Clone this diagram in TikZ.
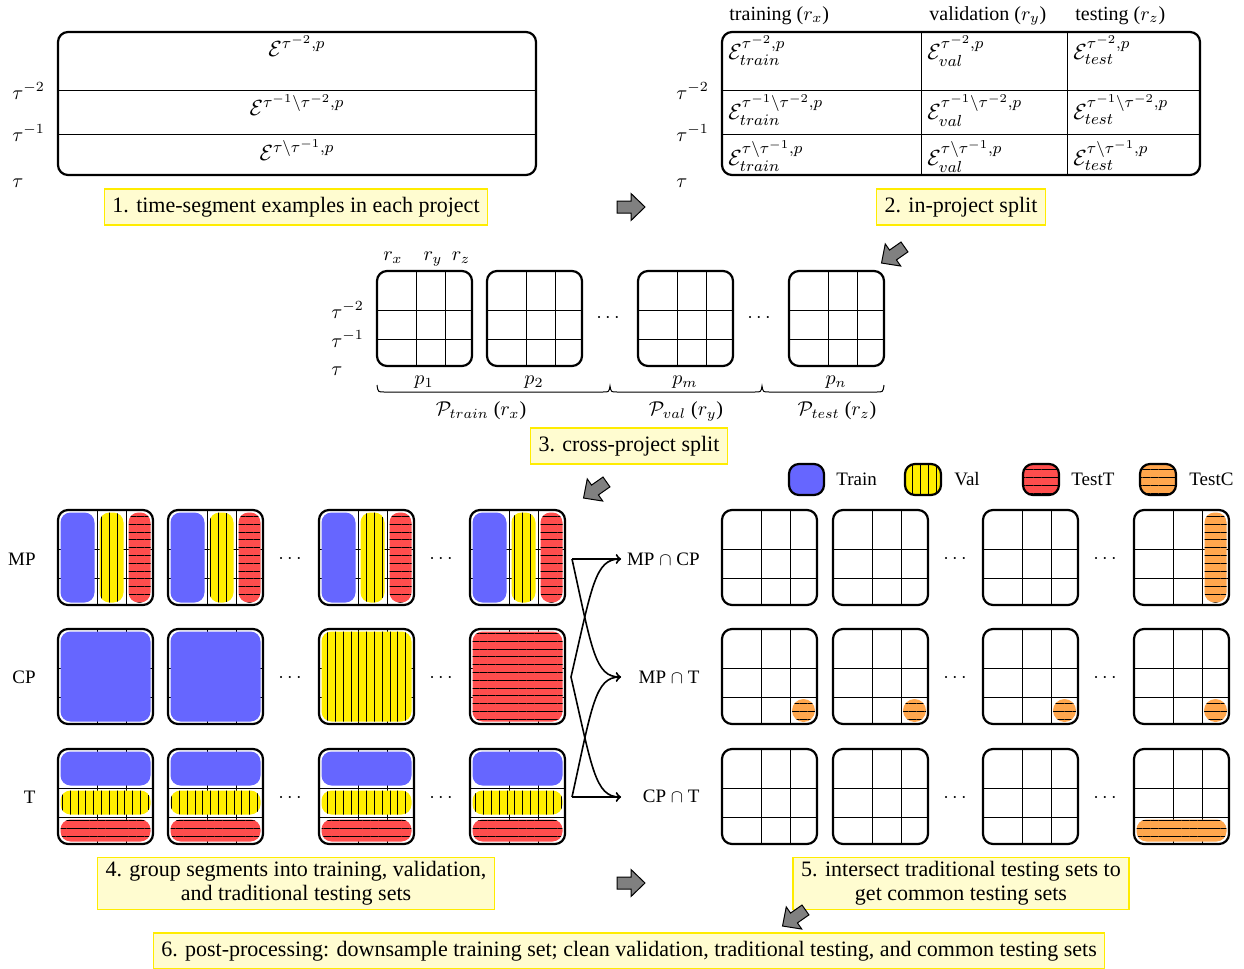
\documentclass[tikz,border=0pt]{standalone}
\usepackage[no-math]{fontspec}
\setmainfont{Liberation Serif}
\usetikzlibrary{patterns.meta}
\definecolor{trainc}{RGB}{102,102,255}
\definecolor{valc}{RGB}{255,238,0}
\definecolor{testtc}{RGB}{255,77,77}
\definecolor{testcc}{RGB}{255,166,77}
\definecolor{capfill}{RGB}{255,252,208}
\definecolor{capline}{RGB}{255,236,0}
\definecolor{arrgray}{RGB}{128,128,128}
\tikzset{
  bx/.style={line width=1.1pt, rounded corners=5pt},
  gl/.style={line width=0.5pt, black},
  trf/.style={fill=trainc, rounded corners=5pt},
  vaf/.style={fill=valc, rounded corners=5pt, postaction={pattern={Lines[angle=90,distance=3.9pt,line width=0.5pt]}, pattern color=black}},
  ttf/.style={fill=testtc, rounded corners=5pt, postaction={pattern={Lines[angle=0,distance=3.9pt,line width=0.5pt]}, pattern color=black}},
  tcf/.style={fill=testcc, rounded corners=5pt, postaction={pattern={Lines[angle=0,distance=3.9pt,line width=0.5pt]}, pattern color=black}},
  capbox/.style={draw=capline, fill=capfill, line width=0.6pt, inner xsep=4pt, inner ysep=4pt, font=\fontsize{11}{13.2}\selectfont, text height=7.5pt, text depth=2.5pt},
  captwo/.style={draw=capline, fill=capfill, line width=0.6pt, inner xsep=4pt, inner ysep=2pt, font=\fontsize{11}{12}\selectfont, align=center},
  garr/.style={draw=black, fill=arrgray, line width=0.5pt},
  lbl/.style={inner sep=0pt},
  eq/.style={inner sep=0pt, font=\fontsize{10.95}{13.6}\selectfont},
  sml/.style={inner sep=0pt, font=\fontsize{9.5}{11}\selectfont},
  conn/.style={line width=0.8pt, ->},
}
\newcommand\GL[2]{\draw[gl] ({#1+39},#2) -- ({#1+39},{#2+95}) ({#1+68},#2) -- ({#1+68},{#2+95}) (#1,{#2+39}) -- ({#1+95},{#2+39}) (#1,{#2+68}) -- ({#1+95},{#2+68});}
\newcommand\FR[2]{\draw[bx] (#1,#2) rectangle ({#1+95},{#2+95});}
\newcommand\EBOX[2]{\GL{#1}{#2}\FR{#1}{#2}}
\newcommand\MPF[2]{\GL{#1}{#2}%
  \path[trf] ({#1+2.5},{#2+2.5}) rectangle ({#1+36.5},{#2+92.5});%
  \path[vaf] ({#1+41.5},{#2+2.5}) rectangle ({#1+65.5},{#2+92.5});%
  \path[ttf] ({#1+70.5},{#2+2.5}) rectangle ({#1+92.5},{#2+92.5});%
  \FR{#1}{#2}}
\newcommand\TRF[2]{\GL{#1}{#2}%
  \path[trf] ({#1+2.5},{#2+2.5}) rectangle ({#1+92.5},{#2+36.5});%
  \path[vaf] ({#1+2.5},{#2+41.5}) rectangle ({#1+92.5},{#2+65.5});%
  \path[ttf] ({#1+2.5},{#2+70.5}) rectangle ({#1+92.5},{#2+92.5});%
  \FR{#1}{#2}}
\newcommand\CPF[3]{\GL{#1}{#2}\path[#3] ({#1+2.5},{#2+2.5}) rectangle ({#1+92.5},{#2+92.5});\FR{#1}{#2}}
\newcommand\GARR[3]{\draw[garr, shift={(#1,#2)}, rotate=#3] (-7pt,-3pt) -- (0pt,-3pt) -- (0pt,-6.75pt) -- (7pt,0pt) -- (0pt,6.75pt) -- (0pt,3pt) -- (-7pt,3pt) -- cycle;}
\begin{document}
\begin{tikzpicture}[x=0.5pt,y=-0.5pt]
\useasboundingbox (0,0) rectangle (1244,969);

% ---------- panel 1
\draw[gl] (58,90) -- (536,90) (58,134) -- (536,134);
\draw[bx] (58,32) rectangle (536,175);
\node[eq, anchor=north] (e1a) at (297,35) {$\mathcal{E}^{\tau^{-2},p}$};
\node[eq, anchor=north] (e1b) at (297,94) {$\mathcal{E}^{\tau^{-1}\setminus\tau^{-2},p}$};
\node[eq, anchor=north] (e1c) at (297,139) {$\mathcal{E}^{\tau\setminus\tau^{-1},p}$};
\node[lbl, anchor=base west] (t1a) at (12,99) {$\tau^{-2}$};
\node[lbl, anchor=base west] (t1b) at (12,141) {$\tau^{-1}$};
\node[lbl, anchor=base west] (t1c) at (12,187) {$\tau$};
\node[capbox] (c1) at (296,207) {1. time-segment examples in each project};

% ---------- panel 2
\draw[gl] (722,90) -- (1200,90) (722,134) -- (1200,134) (921,32) -- (921,175) (1067,32) -- (1067,175);
\draw[bx] (722,32) rectangle (1200,175);
\node[lbl, anchor=base west] (h1) at (729,20) {training ($r_x$)};
\node[lbl, anchor=base west] (h2) at (929,20) {validation ($r_y$)};
\node[lbl, anchor=base west] (h3) at (1075,20) {testing ($r_z$)};
\node[eq, anchor=north west] (e2a) at (728,35) {$\mathcal{E}^{\tau^{-2},p}_{train}$};
\node[eq, anchor=north west] (e2b) at (728,94) {$\mathcal{E}^{\tau^{-1}\setminus\tau^{-2},p}_{train}$};
\node[eq, anchor=north west] (e2c) at (728,140) {$\mathcal{E}^{\tau\setminus\tau^{-1},p}_{train}$};
\node[eq, anchor=north west] (e2d) at (927,35) {$\mathcal{E}^{\tau^{-2},p}_{val}$};
\node[eq, anchor=north west] (e2e) at (927,94) {$\mathcal{E}^{\tau^{-1}\setminus\tau^{-2},p}_{val}$};
\node[eq, anchor=north west] (e2f) at (927,140) {$\mathcal{E}^{\tau\setminus\tau^{-1},p}_{val}$};
\node[eq, anchor=north west] (e2g) at (1073,35) {$\mathcal{E}^{\tau^{-2},p}_{test}$};
\node[eq, anchor=north west] (e2h) at (1073,94) {$\mathcal{E}^{\tau^{-1}\setminus\tau^{-2},p}_{test}$};
\node[eq, anchor=north west] (e2i) at (1073,140) {$\mathcal{E}^{\tau\setminus\tau^{-1},p}_{test}$};
\node[lbl, anchor=base west] (t2a) at (676,99) {$\tau^{-2}$};
\node[lbl, anchor=base west] (t2b) at (676,141) {$\tau^{-1}$};
\node[lbl, anchor=base west] (t2c) at (676,187) {$\tau$};
\node[capbox] (c2) at (961,207) {2. in-project split};

% ---------- panel 3
\foreach \x in {377,487,638,789} {\EBOX{\x}{271}}
\node[lbl, anchor=base] (rx) at (393,260) {$r_x$};
\node[lbl, anchor=base] (ry) at (433,260) {$r_y$};
\node[lbl, anchor=base] (rz) at (461,260) {$r_z$};
\node[lbl, anchor=base west] (t3a) at (331,318) {$\tau^{-2}$};
\node[lbl, anchor=base west] (t3b) at (331,347) {$\tau^{-1}$};
\node[lbl, anchor=base west] (t3c) at (331,375) {$\tau$};
\node[lbl, anchor=base] (p1) at (424,384) {$p_1$};
\node[lbl, anchor=base] (p2) at (534,384) {$p_2$};
\node[lbl, anchor=base] (pm) at (685,384) {$p_m$};
\node[lbl, anchor=base] (pn) at (836,384) {$p_n$};
\node[lbl] (d3a) at (608,318) {$\cdots$};
\node[lbl] (d3b) at (759,318) {$\cdots$};
\draw[line width=0.5pt] (377,385) .. controls (378,392) .. (384,392) -- (603,392) .. controls (609,392) .. (610,386)
  .. controls (611,392) .. (617,392) -- (755,392) .. controls (761,392) .. (762,386)
  .. controls (763,392) .. (769,392) -- (877,392) .. controls (883,392) .. (884,385);
\node[lbl] (ptr) at (481,411) {$\mathcal{P}_{train}$ ($r_x$)};
\node[lbl] (pva) at (686,411) {$\mathcal{P}_{val}$ ($r_y$)};
\node[lbl] (pte) at (837,411) {$\mathcal{P}_{test}$ ($r_z$)};
\node[capbox] (c3) at (629,446) {3. cross-project split};

% ---------- panel 4
\foreach \x in {58,168,319,470} {\MPF{\x}{510}}
\CPF{58}{629}{trf}
\CPF{168}{629}{trf}
\CPF{319}{629}{vaf}
\CPF{470}{629}{ttf}
\foreach \x in {58,168,319,470} {\TRF{\x}{749}}
\node[sml, anchor=base east] (mp) at (36,565) {MP};
\node[sml, anchor=base east] (cp) at (36,683) {CP};
\node[sml, anchor=base east] (tt) at (36,803) {T};
\foreach \y/\n in {559/a,678/b,798/c} {
  \node[lbl] (d4\n1) at (290,\y) {$\cdots$};
  \node[lbl] (d4\n2) at (441,\y) {$\cdots$};
  \node[lbl] (d5\n1) at (955,\y) {$\cdots$};
  \node[lbl] (d5\n2) at (1105,\y) {$\cdots$};
}

% ---------- connectors
\coordinate (sMP) at (572,559);
\coordinate (sCP) at (571,677);
\coordinate (sT) at (572,797);
\coordinate (gMPCP) at (621,559);
\coordinate (gMPT) at (621,677);
\coordinate (gCPT) at (621,797);
\draw[conn] (sMP) -- (gMPCP);
\draw[conn] (sMP) .. controls (592,650) and (595,677) .. (gMPT);
\draw[conn] (sCP) .. controls (592,586) and (595,559) .. (gMPCP);
\draw[conn] (sCP) .. controls (592,768) and (595,797) .. (gCPT);
\draw[conn] (sT) .. controls (592,706) and (595,677) .. (gMPT);
\draw[conn] (sT) -- (gCPT);
\node[sml, anchor=base east] (i1) at (700,565) {MP $\cap$ CP};
\node[sml, anchor=base east] (i2) at (700,683) {MP $\cap$ T};
\node[sml, anchor=base east] (i3) at (700,802) {CP $\cap$ T};

% ---------- panel 5
\path[trf] (789,464) rectangle (824,495); \draw[bx] (789,464) rectangle (824,495);
\path[vaf] (905,464) rectangle (941,495); \draw[bx] (905,464) rectangle (941,495);
\path[ttf] (1023,464) rectangle (1059,495); \draw[bx] (1023,464) rectangle (1059,495);
\path[tcf] (1140,464) rectangle (1176,495); \draw[bx] (1140,464) rectangle (1176,495);
\node[sml, anchor=base west] (lg1) at (836,485) {Train};
\node[sml, anchor=base west] (lg2) at (954,485) {Val};
\node[sml, anchor=base west] (lg3) at (1071,485) {TestT};
\node[sml, anchor=base west] (lg4) at (1189,485) {TestC};
\foreach \x in {722,833,983} {\EBOX{\x}{510}}
\GL{1134}{510}
\path[tcf] (1204.5,512.5) rectangle (1226.5,602.5);
\FR{1134}{510}
\foreach \x in {722,833,983,1134} {\GL{\x}{629}\path[tcf] ({\x+81.5},710.5) circle[radius=11.5];\FR{\x}{629}}
\foreach \x in {722,833,983} {\EBOX{\x}{749}}
\GL{1134}{749}
\path[tcf] (1136.5,819.5) rectangle (1226.5,841.5);
\FR{1134}{749}

% ---------- captions
\node[captwo, minimum width=197.5pt] (c4) at (296,883.5) {4. group segments into training, validation,\\ and traditional testing sets};
\node[captwo, minimum width=168pt] (c5) at (961,883.5) {5. intersect traditional testing sets to\\ get common testing sets};
\node[capbox] (c6) at (629,951) {6. post-processing: downsample training set; clean validation, traditional testing, and common testing sets};

% ---------- gray arrows
\GARR{631}{207}{0}
\GARR{893}{255}{215}
\GARR{595}{490}{215}
\GARR{631}{883}{0}
\GARR{794}{918}{215}
\end{tikzpicture}
\end{document}
